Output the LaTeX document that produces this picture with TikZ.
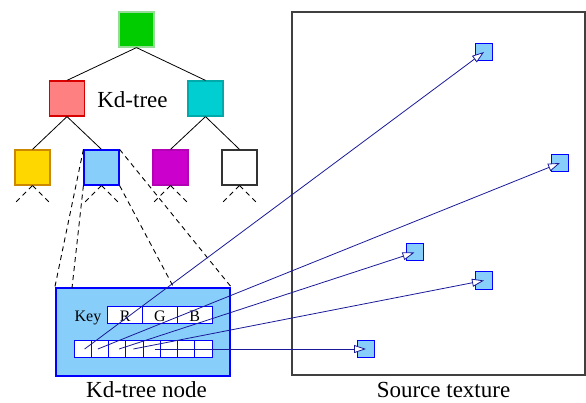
\documentclass[tikz,border=0pt]{standalone}
\usepackage{fontspec}
\setmainfont{Liberation Serif}
\usetikzlibrary{arrows.meta}
\definecolor{lblue}{HTML}{87CEFA}
\definecolor{navyln}{HTML}{1A1A99}
\begin{document}
\begin{tikzpicture}[x=1pt,y=-1pt,
  tnode/.style={draw, line width=1.2pt, minimum size=35pt, inner sep=0pt},
  edge/.style={line width=0.8pt},
  dsh/.style={line width=0.9pt, dash pattern=on 5pt off 4pt},
  cell/.style={draw=blue, fill=white, line width=1pt, inner sep=0pt, minimum height=17pt},
  tgt/.style={draw=blue, fill=lblue, line width=1pt, minimum size=17pt, inner sep=0pt},
  arr/.style={draw=navyln, line width=0.8pt, -{Triangle[length=12pt,width=8pt,fill=white]}},
  big/.style={font=\fontsize{23}{27}\selectfont},
  small/.style={font=\fontsize{16}{19}\selectfont}]
\useasboundingbox (0,0) rectangle (586,403);
% tree
\node[tnode, fill={rgb,255:red,0;green,204;blue,0}, draw={rgb,255:red,150;green,220;blue,150}] (root) at (136.5,29.5) {};
\node[tnode, fill={rgb,255:red,255;green,128;blue,128}, draw=red!85!black] (l) at (67,98.5) {};
\node[tnode, fill={rgb,255:red,0;green,206;blue,209}, draw={rgb,255:red,0;green,170;blue,170}] (r) at (205.5,98.5) {};
\node[tnode, fill={rgb,255:red,255;green,215;blue,0}, draw={rgb,255:red,204;green,136;blue,0}] (ll) at (32.5,167.5) {};
\node[tnode, fill=lblue, draw=blue] (lr) at (101.5,167.5) {};
\node[tnode, fill={rgb,255:red,204;green,0;blue,204}, draw={rgb,255:red,180;green,0;blue,180}] (rl) at (170.5,167.5) {};
\node[tnode, fill=white, draw=black!80] (rr) at (239.5,167.5) {};
\node[big, anchor=base] (kdt) at (132.5,108) {Kd-tree};
\draw[edge] (root.south) -- (l.north);
\draw[edge] (root.south) -- (r.north);
\draw[edge] (l.south) -- (ll.north);
\draw[edge] (l.south) -- (lr.north);
\draw[edge] (r.south) -- (rl.north);
\draw[edge] (r.south) -- (rr.north);
% stubs
\foreach \n in {ll,lr,rl,rr}{
  \draw[dsh] (\n.south) -- ++(-17,17);
  \draw[dsh] (\n.south) -- ++(17,17);
}
% kd-tree node box
\node[draw=blue, fill=lblue, line width=2.2pt, minimum width=174pt, minimum height=88pt, inner sep=0pt] (kd) at (143,332) {};
\coordinate (kdl) at (72,288);
\coordinate (kdm) at (174,288);
\draw[dsh] (lr.north west) -- (kd.north west);
\draw[dsh] (lr.south west) -- (kdl);
\draw[dsh] (lr.north east) -- (kd.north east);
\draw[dsh] (lr.south east) -- (kdm);
\node[small, anchor=base] (key) at (88,321.5) {Key};
\node[cell, minimum width=34.7pt] (R) at (125.3,314.5) {};
\node[cell, minimum width=34.7pt] (G) at (160,314.5) {};
\node[cell, minimum width=34.7pt] (B) at (194.7,314.5) {};
\node[small, anchor=base] at (125.3,321) {R};
\node[small, anchor=base] at (160,321) {G};
\node[small, anchor=base] at (194.7,321) {B};
\foreach \i in {1,...,8}{
  \node[cell, minimum width=17.25pt] (c\i) at ({74+17.25*(\i-0.5)},349) {};
}
\node[big, anchor=base] (kdlab) at (146.5,397.5) {Kd-tree node};
% source texture
\node[draw=black!75, line width=1.3pt, minimum width=293pt, minimum height=363pt, inner sep=0pt] (src) at (438.5,193.5) {};
\node[big, anchor=base] (srclab) at (443.5,397.5) {Source texture};
\node[tgt] (t1) at (484,52) {};
\node[tgt] (t2) at (560,163) {};
\node[tgt] (t3) at (414.5,252.5) {};
\node[tgt] (t4) at (484,280.5) {};
\node[tgt] (t5) at (366,349) {};
\draw[arr] ([xshift=2pt]c1.center) -- (t1.center);
\draw[arr] ([xshift=-2pt]c2.center) -- (t2.center);
\draw[arr] ([xshift=2pt]c3.center) -- (t3.center);
\draw[arr] ([xshift=-1pt]c4.center) -- (t4.center);
\draw[arr] ([xshift=3pt]c5.center) -- (t5.center);
\end{tikzpicture}
\end{document}
